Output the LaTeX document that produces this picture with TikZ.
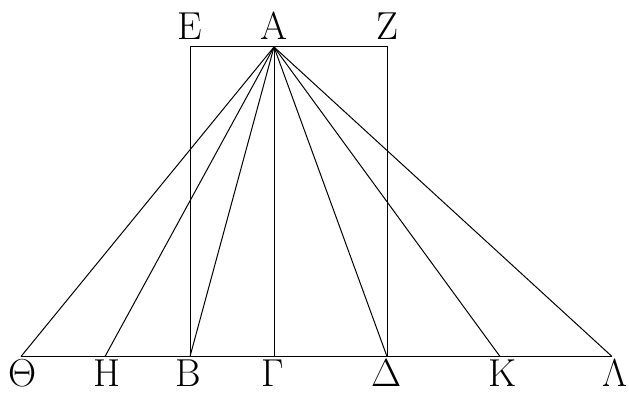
\documentclass[tikz,border=0pt]{standalone}
\usepackage{fontspec}
\begin{document}
\begin{tikzpicture}[x=1pt,y=-1pt,line width=1pt,
  lbl/.style={anchor=base,inner sep=0pt,font=\fontsize{39}{39}\selectfont}]
\useasboundingbox (0,0) rectangle (629,393);
\coordinate (A) at (274,47);
\coordinate (E) at (190,47);
\coordinate (Z) at (387,47);
\coordinate (Th) at (21,356.5);
\coordinate (H) at (105,356.5);
\coordinate (B) at (190,356.5);
\coordinate (G) at (274,356.5);
\coordinate (D) at (387,356.5);
\coordinate (K) at (500,356.5);
\coordinate (L) at (612,356.5);
\draw (E) -- (Z) -- (D) -- (B) -- cycle;
\draw (Th) -- (L);
\foreach \p in {Th,H,B,G,D,K,L} \draw (A) -- (\p);
\node[lbl] (lE) at (190,40) {Ε};
\node[lbl] (lA) at (274,40) {Α};
\node[lbl] (lZ) at (387,40) {Ζ};
\node[lbl] (lTh) at (23,386) {Θ};
\node[lbl] (lH) at (107,386) {Η};
\node[lbl] (lB) at (188,386) {Β};
\node[lbl] (lG) at (273,386) {Γ};
\node[lbl] (lD) at (387,386) {Δ};
\node[lbl] (lK) at (503,386) {Κ};
\node[lbl] (lL) at (615,386) {Λ};
\end{tikzpicture}
\end{document}
